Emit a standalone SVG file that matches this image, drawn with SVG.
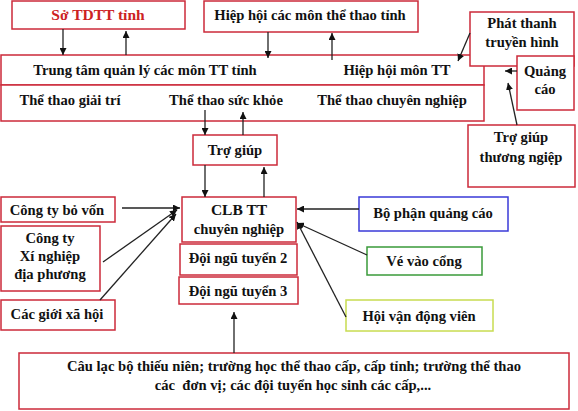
<svg xmlns="http://www.w3.org/2000/svg" width="578" height="411" viewBox="0 0 578 411">
<style>
.b{fill:#fff;stroke:#cc2a3a;stroke-width:1.5}
.t{font-family:"Liberation Serif","Times New Roman",serif;font-weight:bold;font-size:14.6px;fill:#111;text-anchor:middle}
.c{stroke:#222;stroke-width:1.3;fill:none;marker-end:url(#ah)}
</style>
<defs>
<marker id="ah" viewBox="0 0 10 10" refX="10" refY="5" markerWidth="7" markerHeight="7" markerUnits="userSpaceOnUse" orient="auto"><path d="M0,0L10,5L0,10z" fill="#111"/></marker>
</defs>
<rect width="578" height="411" fill="#fff"/>
<g id="so"><rect class="b" x="12" y="1" width="173" height="28"/><text class="t" x="98" y="20" style="fill:#cc2222;font-size:15.5px">Sở TDTT tỉnh</text></g>
<g id="hiephoi"><rect class="b" x="204" y="1" width="214" height="31"/><text class="t" x="310" y="20">Hiệp hội các môn thể thao tỉnh</text></g>
<g id="trungtam"><rect class="b" x="1" y="55" width="483" height="30"/><text class="t" x="145" y="75">Trung tâm quản lý các môn TT tỉnh</text><text class="t" x="397" y="75">Hiệp hội môn TT</text></g>
<g id="thethao"><rect class="b" x="1" y="85" width="483" height="36"/><text class="t" x="70" y="105">Thể thao giải trí</text><text class="t" x="226" y="105">Thể thao sức khỏe</text><text class="t" x="392" y="105">Thể thao chuyên nghiệp</text></g>
<g id="phatthanh"><rect class="b" x="470" y="12" width="104" height="54"/><text class="t" x="522" y="28">Phát thanh</text><text class="t" x="522" y="47">truyền hình</text></g>
<g id="quangcao"><rect class="b" x="517" y="56" width="57" height="54"/><text class="t" x="545" y="76">Quảng</text><text class="t" x="545" y="94">cáo</text></g>
<g id="trogiupTN"><rect class="b" x="468" y="125" width="107" height="62"/><text class="t" x="521" y="142">Trợ giúp</text><text class="t" x="521" y="162">thương ngiệp</text></g>
<g id="trogiup"><rect class="b" x="193" y="135" width="84" height="30"/><text class="t" x="235" y="155">Trợ giúp</text></g>
<g id="clb"><rect class="b" x="182" y="197" width="114" height="45"/><text class="t" x="239" y="215" style="font-size:15.5px">CLB TT</text><text class="t" x="239" y="234">chuyên nghiệp</text></g>
<g id="doingu2"><rect class="b" x="180" y="244" width="117" height="31"/><text class="t" x="238" y="263">Đội ngũ tuyển 2</text></g>
<g id="doingu3"><rect class="b" x="179" y="277" width="119" height="27"/><text class="t" x="238" y="296">Đội ngũ tuyển 3</text></g>
<g id="congtybv"><rect class="b" x="1" y="197" width="114" height="25"/><text class="t" x="57" y="215">Công ty bỏ vốn</text></g>
<g id="congtyxn"><rect class="b" x="1" y="226" width="99" height="65"/><text class="t" x="50" y="243">Công ty</text><text class="t" x="50" y="261">Xí nghiệp</text><text class="t" x="50" y="279">địa phương</text></g>
<g id="cacgioi"><rect class="b" x="1" y="300" width="114" height="30"/><text class="t" x="57" y="319">Các giới xã hội</text></g>
<g id="bophan"><rect x="359" y="197" width="149" height="34" fill="#fff" stroke="#3a3ad8" stroke-width="1.5"/><text class="t" x="433" y="218">Bộ phận quảng cáo</text></g>
<g id="vevao"><rect x="367" y="247" width="115" height="28" fill="#fff" stroke="#3a9a3a" stroke-width="1.5"/><text class="t" x="424" y="266">Vé vào cổng</text></g>
<g id="hoivdv"><rect x="346" y="300" width="147" height="31" fill="#fff" stroke="#c8dc50" stroke-width="1.5"/><text class="t" x="419" y="321">Hội vận động viên</text></g>
<g id="caulacbo"><rect class="b" x="19" y="353" width="550" height="56"/><text class="t" x="294" y="371">Câu lạc bộ thiếu niên; trường học thể thao cấp, cấp tỉnh; trường thể thao</text><text class="t" x="293" y="390" xml:space="preserve" style="white-space:pre">các  đơn vị; các đội tuyển học sinh các cấp,...</text></g>
<g id="connectors">
<path class="c" d="M63,29V55"/>
<path class="c" d="M126,55V31"/>
<path class="c" d="M268,32V58"/>
<path class="c" d="M332,60V33"/>
<path class="c" d="M470,33L458,61"/>
<path class="c" d="M517,71H505"/>
<path class="c" d="M517,125L508,83"/>
<path class="c" d="M205,110V135"/>
<path class="c" d="M243,135V112"/>
<path class="c" d="M205,165V197"/>
<path class="c" d="M264,197V167"/>
<path class="c" d="M122,208H180"/>
<path class="c" d="M103,262L177,210"/>
<path class="c" d="M100,300L176,214"/>
<path class="c" d="M359,209H297"/>
<path class="c" d="M367,255L297,223"/>
<path class="c" d="M346,317L297,222"/>
<path class="c" d="M234,353V312"/>
</g>
</svg>
